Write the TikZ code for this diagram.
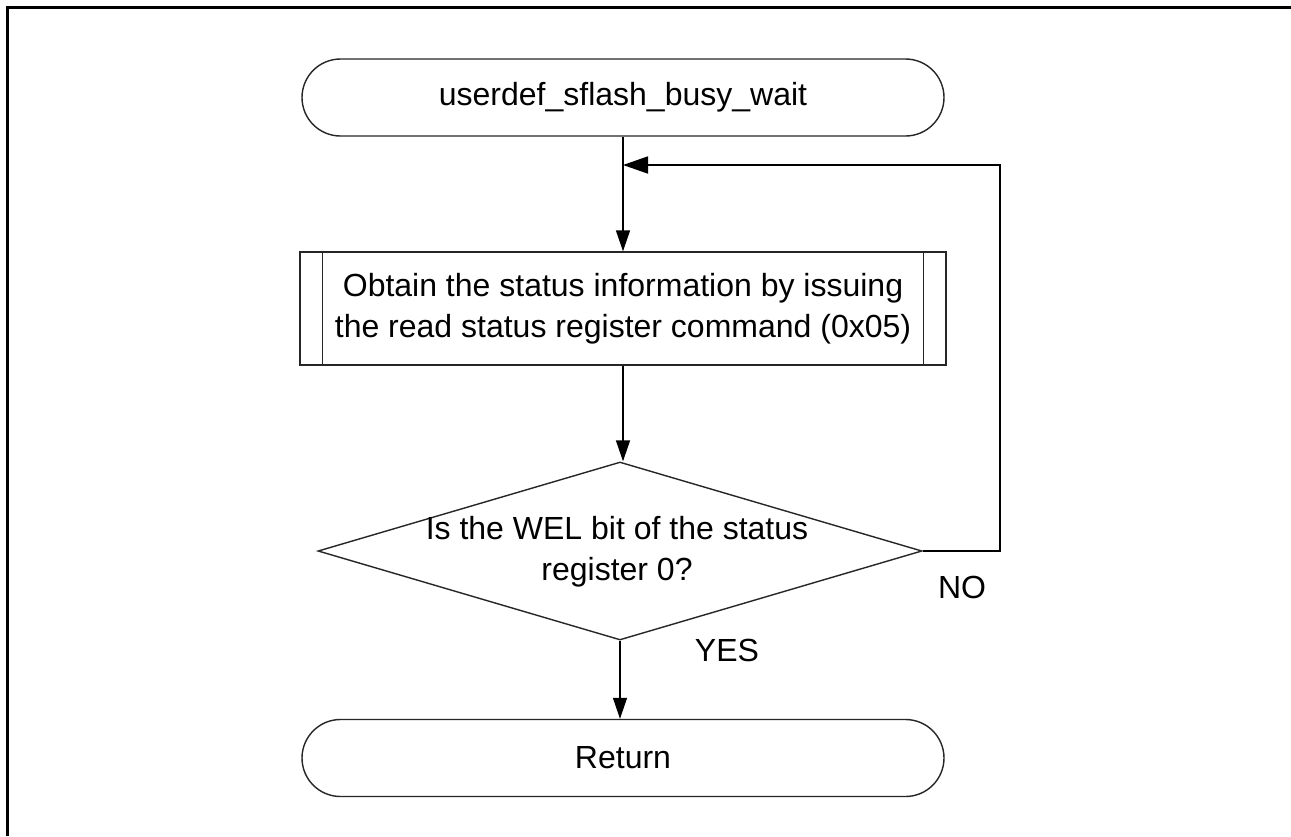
\documentclass[tikz,border=0pt]{standalone}
\usepackage{fontspec}
\setmainfont{Liberation Sans}
\usetikzlibrary{shapes.geometric,arrows.meta}
\begin{document}
\begin{tikzpicture}[x=1pt,y=-1pt,
  every node/.style={font=\fontsize{32}{41}\selectfont},
  shapeline/.style={draw=black!85,line width=1.4pt},
  terminal/.style={shapeline,rectangle,rounded corners=38.5pt,minimum width=642pt,minimum height=77pt,inner sep=0pt},
  procbox/.style={shapeline,rectangle,minimum width=646pt,minimum height=113pt,inner sep=0pt,align=center},
  decision/.style={shapeline,diamond,minimum width=604pt,minimum height=178pt,inner sep=0pt,aspect=3.39},
  arr/.style={draw=black,line width=1.4pt,-{Triangle[length=21pt,width=14pt]}},
  bigarr/.style={draw=black,line width=1.8pt,-{Triangle[length=25pt,width=17pt]}},
  lbl/.style={inner sep=0pt}]
\useasboundingbox (0,0) rectangle (1291,836);
\fill[white] (0,0) rectangle (1291,836);
\draw[line width=3pt] (7.5,836) -- (7.5,7.5) -- (1300,7.5);

\node[terminal] (start) at (623,97.5) {userdef\_sflash\_busy\_wait};
\node[procbox] (proc) at (623,308.5) {Obtain the status information by issuing\\the read status register command (0x05)};
\draw[shapeline] ([xshift=23pt]proc.north west) -- ([xshift=23pt]proc.south west);
\draw[shapeline] ([xshift=-23pt]proc.north east) -- ([xshift=-23pt]proc.south east);
\node[decision] (dec) at (620,551) {};
\node[lbl,align=center] (dectext) at (617,552) {Is the WEL bit of the status\\register 0?};
\node[terminal] (ret) at (623,758) {Return};
\coordinate (join) at (623,165);

\draw[arr] (start.south) -- (proc.north);
\draw[arr] (proc.south) -- (proc.south |- dec.north);
\draw[arr] (dec.south) -- (dec.south |- ret.north);
\draw[bigarr] (dec.east) -- ++(77pt,0) |- (join);

\node[lbl] (no) at (962,587) {NO};
\node[lbl] (yes) at (727,650) {YES};
\end{tikzpicture}
\end{document}
